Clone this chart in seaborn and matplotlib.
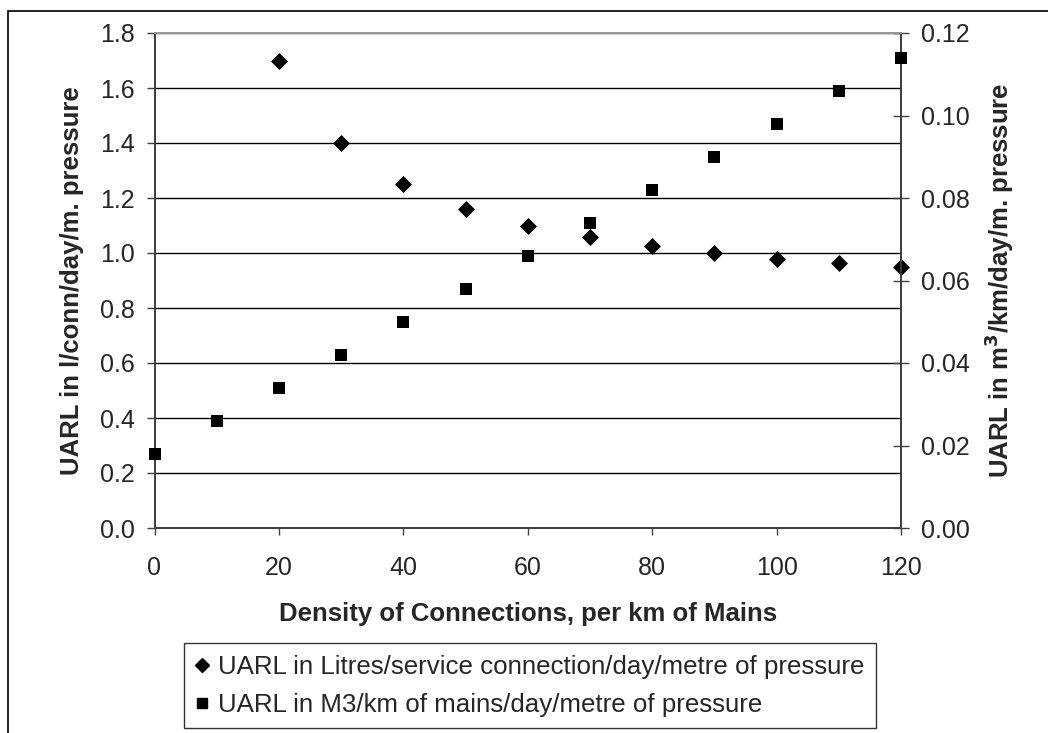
import matplotlib
matplotlib.use('Agg')
import matplotlib.pyplot as plt
import seaborn as sns
import pandas as pd
from matplotlib.patches import Rectangle
from matplotlib.lines import Line2D

# data
density_conn = [20, 30, 40, 50, 60, 70, 80, 90, 100, 110, 120]
uarl_litres = [1.70, 1.40, 1.25, 1.16, 1.10, 1.057, 1.025, 1.00, 0.98, 0.964, 0.95]
density_mains = [0, 10, 20, 30, 40, 50, 60, 70, 80, 90, 100, 110, 120]
uarl_m3 = [0.018, 0.026, 0.034, 0.042, 0.050, 0.058, 0.066, 0.074, 0.082, 0.090, 0.098, 0.106, 0.114]

left_ticks = [0.0, 0.2, 0.4, 0.6, 0.8, 1.0, 1.2, 1.4, 1.6, 1.8]
right_ticks = [0.00, 0.02, 0.04, 0.06, 0.08, 0.10, 0.12]
x_ticks = [0, 20, 40, 60, 80, 100, 120]

label_litres = 'UARL in Litres/service connection/day/metre of pressure'
label_m3 = 'UARL in M3/km of mains/day/metre of pressure'

df_l = pd.DataFrame({'x': density_conn, 'y': uarl_litres})
df_m = pd.DataFrame({'x': density_mains, 'y': uarl_m3})

sns.set_theme(style='white')
plt.rcParams['font.family'] = ['Liberation Sans', 'DejaVu Sans']

fig = plt.figure(figsize=(10.48, 7.33), dpi=100)
ax = fig.add_axes([154.5 / 1048, 1 - 528 / 733, (901 - 154.5) / 1048, (528 - 33) / 733])
ax2 = ax.twinx()

sns.scatterplot(data=df_l, x='x', y='y', marker='D', s=75, color='black',
                edgecolor='black', linewidth=0, ax=ax, clip_on=False, zorder=5)
sns.scatterplot(data=df_m, x='x', y='y', marker='s', s=64, color='black',
                edgecolor='black', linewidth=0, ax=ax2, clip_on=False, zorder=5)

ax.set_xlim(0, 120)
ax.set_ylim(0, 1.8)
ax2.set_ylim(0, 0.12)
ax.set_xticks(x_ticks)
ax.set_yticks(left_ticks)
ax.set_yticklabels([f'{v:.1f}' for v in left_ticks])
ax2.set_yticks(right_ticks)
ax2.set_yticklabels([f'{v:.2f}' for v in right_ticks])

for v in left_ticks[1:]:
    ax.axhline(v, color='black', linewidth=1.0, zorder=1)

for a in (ax, ax2):
    for side in a.spines:
        a.spines[side].set_color('#404040')
        a.spines[side].set_linewidth(1.3)
    a.spines['top'].set_color('#999999')

ax.tick_params(axis='y', direction='out', length=6, width=1, color='#404040',
               labelsize=18, pad=8, left=True)
ax.tick_params(axis='x', direction='out', length=5, width=1, color='#404040',
               labelsize=18, pad=15, bottom=True)
ax2.tick_params(axis='y', direction='inout', length=11, width=1, color='#404040',
                labelsize=18, pad=9, right=True)

ax.set_xlabel('Density of Connections, per km of Mains', fontsize=18.5,
              fontweight='bold', labelpad=16)
ax.set_ylabel('UARL in l/conn/day/m. pressure', fontsize=18.5, fontweight='bold',
              labelpad=12)
ax2.set_ylabel('UARL in m$^{\\mathbf{3}}$/km/day/m. pressure', fontsize=18.5,
               fontweight='bold', labelpad=9)

handles = [
    Line2D([], [], marker='D', color='black', linestyle='none', markersize=7),
    Line2D([], [], marker='s', color='black', linestyle='none', markersize=7),
]
leg = fig.legend(handles, [label_litres, label_m3], loc='upper left',
                 bbox_to_anchor=(184 / 1048, 1 - 643 / 733), fontsize=18.6,
                 frameon=True, fancybox=False, edgecolor='black',
                 handlelength=0.5, handletextpad=0.35, borderpad=0.45,
                 labelspacing=0.55, borderaxespad=0)
leg.get_frame().set_linewidth(1.0)

fig.add_artist(Rectangle((8 / 1048, -0.1), 1.2, 1 - 11 / 733 + 0.1,
                         transform=fig.transFigure, fill=False,
                         edgecolor='black', linewidth=1.2))

fig.savefig('out.png', dpi=100)
